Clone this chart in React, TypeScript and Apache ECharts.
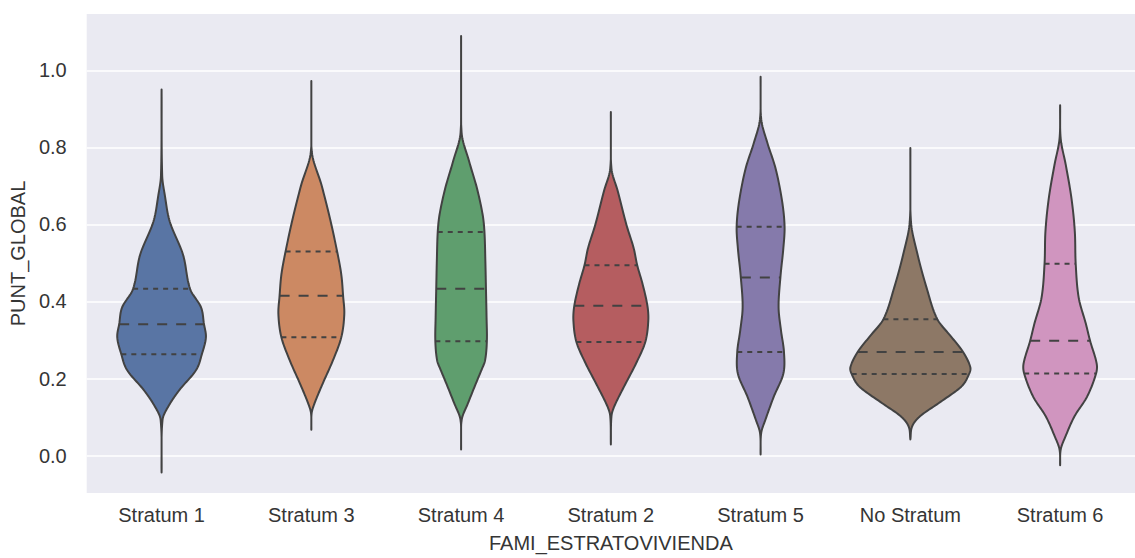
import React, { useEffect, useRef } from "react";
import * as echarts from "echarts";

// Categories in plotted order
const categories = ["Stratum 1", "Stratum 3", "Stratum 4", "Stratum 2", "Stratum 5", "No Stratum", "Stratum 6"];

// KDE outline samples: PUNT_GLOBAL value and relative density (1 = widest violin)
const s1Y = [-0.044, 0.093, 0.127, 0.170, 0.222, 0.264, 0.307, 0.342, 0.385, 0.432, 0.522, 0.607, 0.676, 0.727, 0.950];
const s1D = [0, 0.016, 0.11, 0.296, 0.576, 0.674, 0.740, 0.707, 0.658, 0.477, 0.357, 0.137, 0.054, 0.01, 0];

const s3Y = [0.067, 0.110, 0.136, 0.187, 0.247, 0.307, 0.367, 0.415, 0.470, 0.530, 0.616, 0.702, 0.788, 0.972];
const s3D = [0, 0.005, 0.054, 0.19, 0.36, 0.50, 0.55, 0.53, 0.50, 0.43, 0.31, 0.17, 0.008, 0];

const s4Y = [0.016, 0.093, 0.136, 0.196, 0.222, 0.247, 0.297, 0.359, 0.433, 0.505, 0.580, 0.625, 0.693, 0.762, 0.839, 1.089];
const s4D = [0, 0.01, 0.115, 0.27, 0.34, 0.40, 0.43, 0.425, 0.415, 0.405, 0.39, 0.36, 0.266, 0.137, 0.008, 0];

const s2Y = [0.029, 0.102, 0.127, 0.179, 0.239, 0.295, 0.350, 0.389, 0.445, 0.494, 0.539, 0.599, 0.685, 0.745, 0.892];
const s2D = [0, 0.01, 0.055, 0.22, 0.42, 0.575, 0.625, 0.61, 0.53, 0.44, 0.38, 0.26, 0.118, 0.01, 0];

const s5Y = [0.003, 0.059, 0.093, 0.153, 0.213, 0.269, 0.325, 0.385, 0.462, 0.539, 0.594, 0.659, 0.745, 0.813, 0.873, 0.983];
const s5D = [0, 0.01, 0.08, 0.22, 0.38, 0.39, 0.34, 0.30, 0.33, 0.38, 0.40, 0.36, 0.25, 0.11, 0.01, 0];

const nsY = [0.042, 0.076, 0.102, 0.136, 0.179, 0.212, 0.230, 0.269, 0.307, 0.354, 0.436, 0.522, 0.607, 0.798];
const nsD = [0, 0.03, 0.16, 0.47, 0.85, 0.98, 1.0, 0.88, 0.69, 0.45, 0.27, 0.12, 0.01, 0];

const s6Y = [-0.025, 0.016, 0.050, 0.102, 0.153, 0.213, 0.239, 0.298, 0.342, 0.410, 0.498, 0.582, 0.667, 0.753, 0.822, 0.909];
const s6D = [0, 0.01, 0.09, 0.24, 0.45, 0.60, 0.61, 0.50, 0.43, 0.31, 0.26, 0.245, 0.19, 0.096, 0.01, 0];

// Quartiles
const q1Values = [0.263, 0.307, 0.297, 0.295, 0.269, 0.212, 0.213];
const medianValues = [0.341, 0.415, 0.433, 0.389, 0.462, 0.269, 0.298];
const q3Values = [0.433, 0.530, 0.580, 0.494, 0.594, 0.354, 0.498];

const yTicks = [0, 0.2, 0.4, 0.6, 0.8, 1.0];

const profilesY = [s1Y, s3Y, s4Y, s2Y, s5Y, nsY, s6Y];
const profilesD = [s1D, s3D, s4D, s2D, s5D, nsD, s6D];
const colors = ["#5975a4", "#cc8963", "#5f9e6e", "#b55d60", "#857aab", "#8d7866", "#d095bf"];

const FONT = "Liberation Sans, Arial, sans-serif";
const TEXT = "#353535";
const EDGE = "#424242";

// Catmull-Rom style cubic through the read samples, for a smooth outline
function smoothProfile(ys: number[], ds: number[]) {
  const n = ys.length;
  const m: number[] = new Array(n).fill(0);
  for (let i = 0; i < n; i++) {
    if (i === 0) m[i] = (ds[1] - ds[0]) / (ys[1] - ys[0]);
    else if (i === n - 1) m[i] = (ds[n - 1] - ds[n - 2]) / (ys[n - 1] - ys[n - 2]);
    else m[i] = (ds[i + 1] - ds[i - 1]) / (ys[i + 1] - ys[i - 1]);
  }
  const out: [number, number][] = [];
  const steps = 12;
  for (let i = 0; i < n - 1; i++) {
    const h = ys[i + 1] - ys[i];
    for (let s = 0; s < steps; s++) {
      const t = s / steps;
      const t2 = t * t, t3 = t2 * t;
      const h00 = 2 * t3 - 3 * t2 + 1, h10 = t3 - 2 * t2 + t, h01 = -2 * t3 + 3 * t2, h11 = t3 - t2;
      let d = h00 * ds[i] + h10 * h * m[i] + h01 * ds[i + 1] + h11 * h * m[i + 1];
      const lo = Math.min(ds[i], ds[i + 1]);
      if (lo < 0.06) d = Math.min(d, Math.max(ds[i], ds[i + 1]));
      out.push([ys[i] + t * h, Math.max(0, d)]);
    }
  }
  out.push([ys[n - 1], ds[n - 1]]);
  return out;
}

function densityAt(ys: number[], ds: number[], v: number) {
  const pts = smoothProfile(ys, ds);
  for (let i = 0; i < pts.length - 1; i++) {
    if (v >= pts[i][0] && v <= pts[i + 1][0]) {
      const t = (v - pts[i][0]) / (pts[i + 1][0] - pts[i][0]);
      return pts[i][1] + t * (pts[i + 1][1] - pts[i][1]);
    }
  }
  return 0;
}

export default function App() {
  const ref = useRef<HTMLDivElement>(null);
  useEffect(() => {
    if (!ref.current) return;
    const chart = echarts.init(ref.current, null, { renderer: "svg" });

    const renderItem = (params: any, api: any) => {
      const idx = params.dataIndex;
      const ys = profilesY[idx];
      const ds = profilesD[idx];
      const band = api.size([1, 0])[0];
      const halfMax = band * 0.4;
      const cx = api.coord([idx, 0])[0];
      const pts = smoothProfile(ys, ds);
      const right = pts.map((p) => [cx + p[1] * halfMax, api.coord([idx, p[0]])[1]]);
      const left = pts.slice().reverse().map((p) => [cx - p[1] * halfMax, api.coord([idx, p[0]])[1]]);
      const children: any[] = [
        {
          type: "polygon",
          shape: { points: right.concat(left) },
          style: { fill: colors[idx], stroke: EDGE, lineWidth: 2, lineJoin: "round" },
        },
      ];
      const qs = [
        { v: q1Values[idx], dash: [5, 5] },
        { v: medianValues[idx], dash: [10, 9] },
        { v: q3Values[idx], dash: [5, 5] },
      ];
      qs.forEach((q) => {
        const w = densityAt(ys, ds, q.v) * halfMax;
        const y = api.coord([idx, q.v])[1];
        children.push({
          type: "line",
          shape: { x1: cx - w, y1: y, x2: cx + w, y2: y },
          style: { stroke: EDGE, lineWidth: 2, lineDash: q.dash },
        });
      });
      return { type: "group", children };
    };

    chart.setOption({
      animation: false,
      backgroundColor: "#ffffff",
      grid: {
        left: 85.7,
        top: 14,
        width: 1064,
        height: 483,
        show: true,
        backgroundColor: "#EAEAF2",
        borderWidth: 0,
      },
      xAxis: {
        type: "category",
        data: categories,
        name: "FAMI_ESTRATOVIVIENDA",
        nameLocation: "middle",
        nameGap: 40,
        nameTextStyle: { fontFamily: FONT, fontSize: 20, color: TEXT },
        axisLine: { show: false },
        axisTick: { show: false },
        axisLabel: { fontFamily: FONT, fontSize: 20, color: TEXT, margin: 12 },
        splitLine: { show: false },
      },
      yAxis: {
        type: "value",
        min: -0.097,
        max: 1.146,
        name: "PUNT_GLOBAL",
        nameLocation: "middle",
        nameGap: 53,
        nameTextStyle: { fontFamily: FONT, fontSize: 20, color: TEXT },
        axisLine: { show: false },
        axisTick: { show: false, customValues: yTicks },
        axisLabel: {
          fontFamily: FONT,
          fontSize: 20,
          color: TEXT,
          margin: 20,
          customValues: yTicks,
          formatter: (v: number) => v.toFixed(1),
        },
        splitLine: { show: true, lineStyle: { color: "#ffffff", width: 1.5 } },
      },
      series: [
        {
          type: "custom",
          renderItem,
          data: categories.map((_, i) => [i]),
          encode: { x: 0 },
          clip: false,
        },
      ],
    });
    return () => chart.dispose();
  }, []);
  return (
    <div
      ref={ref}
      style={{ position: "absolute", left: 0, top: 0, width: 1135, height: 558, overflow: "hidden" }}
    />
  );
}
